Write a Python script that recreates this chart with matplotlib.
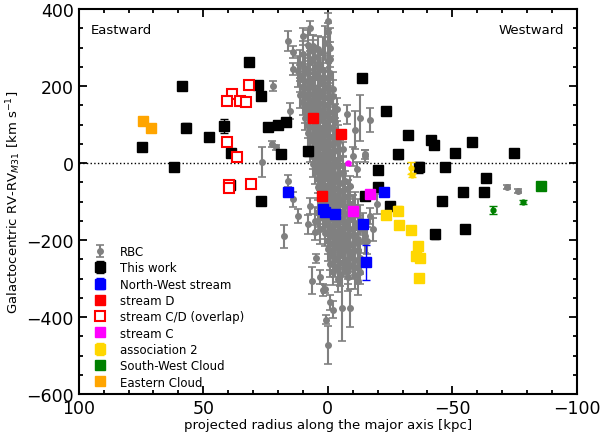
import numpy as np
import matplotlib
matplotlib.use("Agg")
import matplotlib.pyplot as plt

# RBC clusters: projected radius [kpc], velocity [km/s], error [km/s]
rbc_x = [8, 4, 1, 6, -1, 10, 5, 2, -1, 7, 11, 7, 3, 0, 5, 9,
         12, 8, 5, 2, -1, 10, 4, 11, 9, 6, 3, 0, 7, 2,
         10, 8, 6, 4, 1, -2, 5, 3, 11, 9, 7, 4, 2, 0, -2, 6,
         10, 8, 6, 5, 3, 1, -1, 7, 4, 9, 7, 5, 4, 2, 0, -2, 6, 3,
         9, 7, 6, 4, 2, 1, -1, -3, 5, 8, 6, 5, 3, 1, 0, -2, 4, 2,
         8, 6, 4, 3, 1, -1, -3, 5, 2, 7, 5, 4, 2, 0, -2, -4, 3, 1,
         7, 5, 3, 1, 0, -2, -4, 4, 2, 6, 4, 3, 1, -1, -3, -5, 2, 0,
         6, 4, 2, 1, -1, -2, -4, 3, 0, 5, 3, 1, 0, -2, -4, -6, 2, -1,
         4, 3, 1, -1, -3, -5, -7, 2, 0, 4, 2, 0, -2, -3, -5, -7, 1, -1,
         3, 1, 0, -2, -4, -6, -8, 2, -3, 3, 1, -1, -3, -5, -7, -9, 0, -2, -11,
         2, 0, -2, -4, -6, -8, -10, -1, -3, -12, 4,
         2, 0, -2, -3, -5, -7, -9, -11, -4, -13, 5,
         1, -1, -3, -5, -7, -9, -11, -2, -6, -14, 3,
         1, -1, -3, -4, -6, -8, -10, -12, -5, -15,
         0, -2, -4, -6, -8, -10, -12, -3, -7,
         0, -2, -4, -6, -8, -10, -12, -5,
         -1, -3, -5, -7, -9, -11, -13, -6,
         -1, -3, -6, -8, -10, -12, -4,
         -2, -5, -8, -11, -13, -4, -8, -12,
         0, 0, 7.2, 16, 14, 6, 10, 22, 14, -13, -17, -10.8, -7.6, -3.6, 15,
         22.5, 21, 26.5, 16, 14, 12, 17.7, 4.8, 6.4, 1.2, 0.8, 0, -0.8, -2,
         -5.6, -8.8, -6, -10, -15, -15, -11.6, -9, -19.7, -17, -18, -15.6,
         7, 8, 5, -72, -76.5, 2, 3]
rbc_v = [306, 296, 312, 290, 300, 283, 275, 287, 270, 266, 258, 262, 255, 264, 249, 246,
         238, 243, 235, 241, 233, 228, 226, 219, 214, 222, 216, 221, 208, 205,
         198, 194, 201, 190, 196, 192, 186, 182, 178, 173, 180, 171, 176, 168, 174, 165,
         158, 153, 161, 149, 156, 150, 159, 145, 143, 138, 134, 140, 130, 136, 128, 133, 125, 122,
         118, 113, 120, 110, 116, 106, 114, 108, 103, 98, 94, 101, 90, 96, 87, 93, 84, 82,
         78, 73, 80, 70, 76, 68, 74, 64, 62, 58, 53, 60, 50, 56, 48, 54, 44, 42,
         38, 34, 40, 30, 36, 28, 33, 24, 22, 18, 13, 20, 10, 16, 8, 14, 4, 2,
         -2, -7, 0, -10, -4, -12, -6, -16, -18, -22, -27, -20, -30, -24, -32, -26, -36, -38,
         -42, -47, -40, -50, -44, -52, -46, -56, -58, -62, -67, -60, -70, -64, -72, -66, -76, -78,
         -82, -87, -80, -90, -84, -92, -86, -96, -98, -102, -107, -100, -110, -104, -112, -106, -116, -118, -114,
         -122, -127, -120, -130, -124, -132, -126, -136, -138, -134, -128,
         -142, -147, -140, -150, -144, -152, -146, -156, -158, -148, -150,
         -162, -167, -160, -170, -164, -172, -166, -176, -178, -170, -172,
         -182, -187, -180, -190, -184, -192, -186, -196, -198, -190,
         -202, -207, -200, -210, -204, -212, -206, -216, -218,
         -222, -227, -220, -230, -224, -232, -226, -236,
         -242, -247, -240, -250, -244, -252, -246, -256,
         -262, -267, -260, -270, -264, -272, -276,
         -282, -287, -280, -290, -284, -302, -296, -305,
         369, 340, 352, 317, 288, 304, 330, 200, 244, 117, 112, 86, 127, 140, 135,
         49, 41, 3, -47, -94, -137, -190, -247, -306, -327, -407, -472, -362, -381,
         -377, -377, 36, 18, 18, 23, -16, -59, -106, -137, -172, -202,
         -111, -159, -180, -63, -73, -329, -295]
rbc_err = [40, 35, 45, 30, 50, 35, 30, 40, 45, 33, 37, 30, 35, 43, 27, 35,
           40, 30, 35, 33, 45, 29, 37, 35, 30, 33, 37, 40, 27, 35,
           33, 37, 30, 35, 40, 45, 29, 33, 35, 31, 37, 30, 35, 40, 43, 27,
           33, 29, 35, 31, 37, 33, 40, 30, 35, 35, 30, 33, 37, 31, 39, 43, 29, 35,
           31, 35, 30, 33, 37, 31, 40, 45, 33, 33, 30, 35, 31, 37, 33, 41, 29, 35,
           35, 31, 33, 37, 30, 39, 43, 31, 35, 33, 30, 35, 31, 37, 40, 45, 29, 33,
           35, 31, 33, 37, 30, 39, 43, 31, 35, 33, 30, 37, 31, 35, 41, 45, 29, 33,
           35, 31, 33, 37, 30, 39, 43, 31, 35, 33, 30, 35, 31, 37, 40, 45, 29, 33,
           35, 31, 33, 37, 30, 39, 43, 31, 35, 33, 30, 37, 31, 35, 41, 45, 29, 33,
           35, 31, 33, 37, 30, 39, 43, 31, 35, 33, 30, 35, 31, 37, 40, 45, 29, 33, 39,
           35, 31, 33, 37, 30, 39, 43, 31, 35, 41, 37,
           33, 30, 37, 31, 35, 41, 45, 29, 33, 39, 35,
           35, 31, 33, 37, 30, 39, 43, 31, 35, 41, 37,
           33, 30, 35, 31, 37, 40, 45, 29, 33, 43,
           35, 31, 33, 37, 30, 39, 43, 31, 35,
           33, 30, 37, 31, 35, 41, 45, 29,
           35, 31, 33, 37, 30, 39, 43, 31,
           33, 30, 35, 31, 37, 40, 33,
           35, 31, 33, 37, 30, 33, 35, 37,
           20, 25, 18, 25, 15, 30, 22, 12, 15, 60, 30, 50, 25, 30, 20,
           8, 6, 40, 15, 20, 18, 30, 12, 35, 10, 12, 50, 20, 22,
           85, 50, 20, 25, 15, 12, 20, 25, 25, 20, 30, 35,
           20, 25, 20, 5, 5, 15, 18]

# This work
work_x = [31.7, 58.6, 28, 27, 57, 41.8, 47.8, 74.7, 61.8, 24, 20, 16.9, 39, 18.9,
          8, 27, 39.4, -13.7, -23.3, -32, -41.4, -42.6, -58, -74.7, -28, -51,
          -36.5, -47, -20, -63.5, -54.3, -62.6, -46, -20, -14.9, -25, -43, -55]
work_v = [262, 201, 203, 174, 92, 97, 67, 43, -11, 93, 99, 106, 26, 23,
          31, -99, -57, 221, 136, 74, 60, 47, 54, 26, 23, 26,
          -11, -11, -18, -40, -76, -75, -99, -63, -85, -111, -185, -171]
work_err = [5, 5, 5, 10, 12, 18, 5, 5, 5, 5, 5, 5, 8, 5,
            12, 5, 10, 5, 5, 5, 5, 8, 5, 5, 12, 10,
            15, 10, 5, 5, 5, 5, 5, 5, 5, 8, 12, 5]

nw_x = [16, 1.8, 1.0, -2.8, -22.5, -14, -15.3]
nw_v = [-75, -118, -126, -132, -75, -159, -258]
nw_err = [5, 5, 5, 5, 5, 8, 46]

sd_x = [6, -5.2, 2.4]
sd_v = [117, 75, -85]

cd_x = [31.7, 38.6, 40.6, 35.3, 32.9, 40.6, 36.5, 39.8, 39.8, 31]
cd_v = [203, 179, 161, 161, 158, 55, 16, -57, -64, -55]

sc_x = [-17, -10]
sc_v = [-80, -124]
sc_small_x = [-8]
sc_small_v = [0]

a2_x = [-23.3, -28, -28.5, -33.3, -36, -35.3, -37, -36.5]
a2_v = [-135, -124, -161, -174, -215, -241, -247, -298]
a2_err = [5, 12, 5, 5, 8, 5, 10, 5]
a2_small_x = [-33.3, -33.8]
a2_small_v = [-13, -31]
a2_small_err = [15, 6]

sw_x = [-85.5]
sw_v = [-60]
sw_small_x = [-66.3, -78.3]
sw_small_v = [-122, -101]
sw_small_err = [10, 6]

ec_x = [74.3, 71.1]
ec_v = [109, 91]

yellow = '#ffd700'
orange = '#ffa500'
ms = 7.5

fig = plt.figure(figsize=(6.01, 4.39), dpi=100)
ax = fig.add_axes([0.131, 0.100, 0.829, 0.877])

ax.axhline(0, color='k', ls=':', lw=1, zorder=1)

h_rbc = ax.errorbar(rbc_x, rbc_v, yerr=rbc_err, fmt='o', color='gray', ms=4,
                    capsize=3, elinewidth=1.5, capthick=1.2, label='RBC', zorder=2)
h_work = ax.errorbar(work_x, work_v, yerr=work_err, fmt='s', color='k', ms=ms,
                     capsize=3, elinewidth=1, label='This work', zorder=3)
h_nw = ax.errorbar(nw_x, nw_v, yerr=nw_err, fmt='s', color='b', ms=ms,
                   capsize=3, elinewidth=1, label='North-West stream', zorder=4)
h_sd, = ax.plot(sd_x, sd_v, 's', color='r', ms=ms, label='stream D', zorder=4)
h_cd, = ax.plot(cd_x, cd_v, 's', mfc='white', mec='r', mew=1.5, ms=ms,
                label='stream C/D (overlap)', zorder=4)
h_sc, = ax.plot(sc_x, sc_v, 's', color='magenta', ms=ms, label='stream C', zorder=4)
ax.errorbar(sc_small_x, sc_small_v, yerr=4, fmt='o', color='magenta', ms=3.5,
            capsize=2, zorder=4)
h_a2 = ax.errorbar(a2_x, a2_v, yerr=a2_err, fmt='s', color=yellow, ms=ms,
                   capsize=3, elinewidth=1, label='association 2', zorder=4)
ax.errorbar(a2_small_x, a2_small_v, yerr=a2_small_err, fmt='o', color=yellow,
            ms=3.5, capsize=3, zorder=4)
h_sw, = ax.plot(sw_x, sw_v, 's', color='green', ms=ms, label='South-West Cloud', zorder=4)
ax.errorbar(sw_small_x, sw_small_v, yerr=sw_small_err, fmt='o', color='green',
            ms=3.5, capsize=3, zorder=4)
h_ec, = ax.plot(ec_x, ec_v, 's', color=orange, ms=ms, label='Eastern Cloud', zorder=4)

ax.set_xlim(100, -100)
ax.set_ylim(-600, 400)
ax.set_xticks([100, 50, 0, -50, -100])
ax.set_xticks(np.arange(-100, 101, 10), minor=True)
ax.set_yticks([-600, -400, -200, 0, 200, 400])
ax.set_yticks(np.arange(-600, 401, 50), minor=True)
ax.tick_params(which='both', direction='in', top=True, right=True,
               labelsize=12.5, width=1.3)
ax.tick_params(which='major', length=6)
ax.tick_params(which='minor', length=3)
for s in ax.spines.values():
    s.set_linewidth(1.5)

ax.set_xlabel('projected radius along the major axis [kpc]', fontsize=9.5, labelpad=1)
ax.set_ylabel(r'Galactocentric RV-RV$_{M31}$ [km s$^{-1}$]', fontsize=9.5, labelpad=2)

ax.text(0.025, 0.965, 'Eastward', transform=ax.transAxes, fontsize=9.5, va='top')
ax.text(0.975, 0.965, 'Westward', transform=ax.transAxes, fontsize=9.5, va='top', ha='right')

handles = [h_rbc, h_work, h_nw, h_sd, h_cd, h_sc, h_a2, h_sw, h_ec]
ax.legend(handles=handles, loc='lower left', bbox_to_anchor=(0.01, -0.01), frameon=False,
          fontsize=8.5, numpoints=1, handlelength=1.2, handletextpad=1.1,
          labelspacing=0.28, borderaxespad=0.4)

fig.savefig('out.png', dpi=100)
